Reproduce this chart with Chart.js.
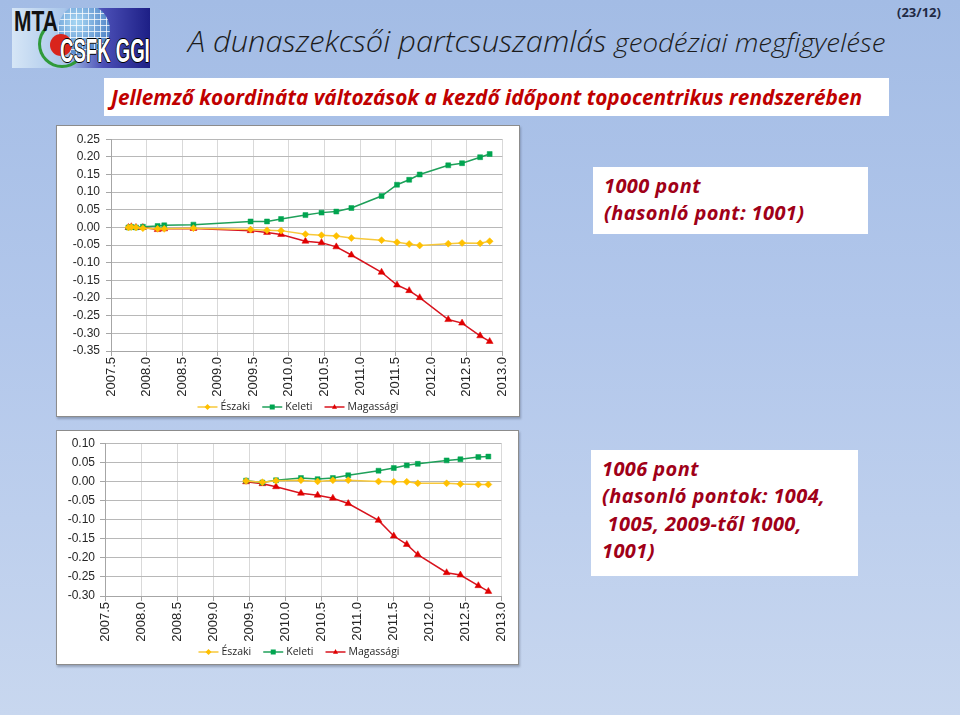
<!DOCTYPE html>
<html lang="hu">
<head>
<meta charset="UTF-8">
<title>A dunaszekcsői partcsuszamlás geodéziai megfigyelése</title>
<script src="https://cdn.jsdelivr.net/npm/chart.js"></script>
<style>
  html, body { margin: 0; padding: 0; }
  body {
    width: 960px; height: 715px; position: relative; overflow: hidden;
    background: linear-gradient(180deg, #a3bce5 0%, #b2c7eb 45%, #c8d7ef 100%);
    font-family: "Open Sans", "Liberation Sans", sans-serif;
  }
  .abs { position: absolute; white-space: nowrap; }
  /* logo */
  .logo { left: 12px; top: 8px; width: 138px; height: 60px; overflow: hidden;
    background: linear-gradient(90deg, #d6e6f6 0%, #a9c6ea 38%, #4b4fb6 66%, #1d1f86 100%); }
  .globe { left: 46px; top: -4px; width: 52px; height: 52px; border-radius: 50%;
    background: repeating-linear-gradient(0deg, rgba(255,255,255,.75) 0 1px, transparent 1px 6px),
                repeating-linear-gradient(90deg, rgba(255,255,255,.75) 0 1px, transparent 1px 6px),
                radial-gradient(circle at 35% 35%, #a8d8f4, #2f63b6); }
  .redq { left: 38px; top: 26px; width: 22px; height: 22px; border-radius: 50%; background: #d9241c; }
  .greenarc { left: 26px; top: 12px; width: 42px; height: 42px; border-radius: 50%;
    border: 3px solid transparent; border-bottom-color: #2f9a3a; border-left-color: #2f9a3a; }
  .mta { left: 2px; top: -2px; font-family: "Liberation Sans", sans-serif; transform-origin: left top;
    font-weight: bold; font-size: 30px; line-height: 30px; color: #111; }
  .csfk { left: 48px; top: 26px; font-family: "Liberation Sans", sans-serif; transform-origin: left top;
    font-weight: bold; font-size: 33px; line-height: 33px; color: #fff;
    text-shadow: -1px 0 #000, 1px 0 #000, 0 -1px #000, 0 1px #000; }

  .title { left: 188px; top: 26px; font-style: italic; font-size: 29px; line-height: 29px;
    color: #1c1c1c; transform-origin: left top; font-weight: 300; }
  .title span { font-size: 26px; }
  .page { left: 897px; top: 3px; font-weight: bold; font-size: 13px; color: #1f2a44; }
  .subbox { left: 104px; top: 78px; width: 785px; height: 38px; background: #fff; }
  .subtitle { left: 111px; top: 83px; color: #c00000; font-weight: bold; font-style: italic;
    font-size: 21px; line-height: 28px; transform-origin: left top; }

  .chartbox { background: #fff; border: 1px solid #8c8c8c; box-shadow: 1px 2px 2px rgba(60,70,90,.35); }
  .chartbox canvas { position: absolute; left: 0; top: 0; }
  .note { background: #fff; color: #a00018; font-weight: bold; font-style: italic;
    font-size: 20px; line-height: 27.5px; letter-spacing: 0.4px;
    padding: 4.5px 0 0 11px; box-sizing: border-box; white-space: pre; }
</style>
</head>
<body>

<div class="abs logo">
  <div class="abs globe"></div>
  <div class="abs greenarc"></div>
  <div class="abs redq"></div>
  <div class="abs mta" data-fit="44">MTA</div>
  <div class="abs csfk" data-fit="90">CSFK GGI</div>
</div>

<div class="abs title" data-fit="697">A dunaszekcsői partcsuszamlás <span>geodéziai megfigyelése</span></div>
<div class="abs page">(23/12)</div>

<div class="abs subbox"></div>
<div class="abs subtitle" data-fit="751">Jellemző koordináta változások a kezdő időpont topocentrikus rendszerében</div>

<div class="abs chartbox" style="left:56px; top:125px; width:462px; height:290px;">
  <canvas id="chartTop" width="462" height="290"></canvas>
</div>
<div class="abs chartbox" style="left:56px; top:430px; width:461px; height:233px;">
  <canvas id="chartBottom" width="461" height="233"></canvas>
</div>

<div class="abs note" style="left:593px; top:167px; width:275px; height:67px;">1000 pont
(hasonló pont: 1001)</div>
<div class="abs note" style="left:591px; top:450px; width:267px; height:126px;">1006 pont
(hasonló pontok: 1004,
 1005, 2009-től 1000,
1001)</div>

<script>
    // 1000-es pont (felső ábra)
    const yearsTop = [2007.745, 2007.786, 2007.851, 2007.948, 2008.155, 2008.248, 2008.658,
        2009.461, 2009.692, 2009.890, 2010.232, 2010.458, 2010.666, 2010.878, 2011.302,
        2011.519, 2011.690, 2011.838, 2012.239, 2012.433, 2012.687, 2012.821];
    const eszakiTop = [0.000, 0.001, 0.000, -0.002, -0.004, -0.004, -0.002,
        -0.006, -0.008, -0.009, -0.019, -0.022, -0.024, -0.030, -0.036,
        -0.042, -0.047, -0.051, -0.046, -0.044, -0.045, -0.039];
    const keletiTop = [0.000, 0.001, 0.000, 0.002, 0.004, 0.006, 0.008,
        0.017, 0.017, 0.024, 0.035, 0.042, 0.045, 0.055, 0.089,
        0.121, 0.135, 0.150, 0.176, 0.182, 0.199, 0.208];
    const magassagiTop = [0.000, 0.002, 0.000, 0.000, -0.006, -0.004, -0.003,
        -0.009, -0.014, -0.020, -0.039, -0.043, -0.055, -0.078, -0.127,
        -0.163, -0.179, -0.199, -0.261, -0.271, -0.307, -0.323];

    // 1006-os pont (alsó ábra)
    const yearsBottom = [2009.457, 2009.684, 2009.873, 2010.219, 2010.450, 2010.662, 2010.875,
        2011.295, 2011.507, 2011.687, 2011.840, 2012.240, 2012.431, 2012.680, 2012.819];
    const eszakiBottom = [0.001, -0.002, 0.002, 0.003, 0.000, 0.003, 0.003,
        0.000, -0.001, -0.001, -0.005, -0.005, -0.007, -0.008, -0.008];
    const keletiBottom = [0.002, -0.003, 0.003, 0.009, 0.006, 0.009, 0.016,
        0.028, 0.035, 0.042, 0.046, 0.055, 0.058, 0.064, 0.065];
    const magassagiBottom = [-0.001, -0.006, -0.014, -0.031, -0.036, -0.044, -0.058,
        -0.102, -0.143, -0.165, -0.192, -0.239, -0.245, -0.273, -0.288];

    const seriesNames = ['Északi', 'Keleti', 'Magassági'];
    const xMin = 2007.5, xMax = 2013.0, xStep = 0.5;

    const lineColors = ['#f7c83a', '#1fa05a', '#d8141e'];
    const markerColors = ['#ffc000', '#00a550', '#e00000'];
    const markerStyles = ['rectRot', 'rect', 'triangle'];
    const markerSizes = [3.5, 3.5, 4];

    const textColor = '#262626';
    const tickFont = { family: '"Liberation Sans", Arial, sans-serif', size: 12 };

    function drawMarker(ctx, style, x, y, r, color) {
        ctx.fillStyle = color;
        ctx.beginPath();
        if (style === 'rect') {
            ctx.rect(x - r, y - r, 2 * r, 2 * r);
        } else if (style === 'rectRot') {
            ctx.moveTo(x, y - r - 0.5); ctx.lineTo(x + r + 0.5, y);
            ctx.lineTo(x, y + r + 0.5); ctx.lineTo(x - r - 0.5, y);
        } else {
            ctx.moveTo(x, y - r - 0.5); ctx.lineTo(x + r, y + r * 0.7); ctx.lineTo(x - r, y + r * 0.7);
        }
        ctx.closePath();
        ctx.fill();
    }

    // Excel-szerű jelmagyarázat: vonal + jelölő + felirat
    const excelLegend = {
        id: 'excelLegend',
        afterDraw(chart, args, opts) {
            const ctx = chart.ctx;
            ctx.save();
            ctx.font = '10.5px "Open Sans", "Liberation Sans", sans-serif';
            ctx.textBaseline = 'middle';
            const items = chart.data.datasets.map((ds, i) => ({
                ds, i, w: 20 + 3 + ctx.measureText(ds.label).width
            }));
            const gap = 12;
            const total = items.reduce((s, it) => s + it.w, 0) + gap * (items.length - 1);
            let x = opts.cx - total / 2;
            const y = opts.y;
            items.forEach(it => {
                ctx.strokeStyle = lineColors[it.i];
                ctx.lineWidth = 1.5;
                ctx.beginPath(); ctx.moveTo(x, y); ctx.lineTo(x + 20, y); ctx.stroke();
                drawMarker(ctx, markerStyles[it.i], x + 10, y, 2.5, markerColors[it.i]);
                ctx.fillStyle = textColor;
                ctx.fillText(it.ds.label, x + 23, y + 0.5);
                x += it.w + gap;
            });
            ctx.restore();
        }
    };

    function makeChart(id, years, series, yMin, yMax, box) {
        const xTicks = [];
        for (let v = xMin; v <= xMax + 1e-9; v += xStep) xTicks.push(+v.toFixed(1));
        const yTicks = [];
        for (let k = Math.round(yMin / 0.05); k <= Math.round(yMax / 0.05); k++) yTicks.push(+(k * 0.05).toFixed(2));

        new Chart(document.getElementById(id).getContext('2d'), {
            type: 'line',
            data: {
                datasets: series.map((vals, i) => ({
                    label: seriesNames[i],
                    data: years.map((x, j) => ({ x: x, y: vals[j] })),
                    borderColor: lineColors[i],
                    backgroundColor: markerColors[i],
                    pointBackgroundColor: markerColors[i],
                    pointBorderColor: markerColors[i],
                    pointStyle: markerStyles[i],
                    pointRadius: markerSizes[i],
                    pointBorderWidth: 0.5,
                    borderWidth: 1.5,
                    tension: 0
                }))
            },
            options: {
                responsive: false,
                animation: false,
                layout: { padding: { left: 0, top: box.top, right: box.right, bottom: 0 } },
                plugins: {
                    legend: { display: false },
                    tooltip: { enabled: false },
                    excelLegend: { cx: box.legendX, y: box.legendY }
                },
                scales: {
                    x: {
                        type: 'linear', min: xMin, max: xMax,
                        afterBuildTicks: s => { s.ticks = xTicks.map(v => ({ value: v })); },
                        afterFit: s => { s.height = box.xh; },
                        ticks: {
                            callback: v => v.toFixed(1),
                            minRotation: 90, maxRotation: 90, autoSkip: false,
                            font: { family: tickFont.family, size: 13 }, color: textColor, padding: 1
                        },
                        grid: { color: '#d9d9d9', tickLength: 5, tickColor: '#a6a6a6' },
                        border: { color: '#a6a6a6' }
                    },
                    y: {
                        min: yMin, max: yMax,
                        afterBuildTicks: s => { s.ticks = yTicks.map(v => ({ value: v })); },
                        afterFit: s => { s.width = box.yw; },
                        ticks: {
                            callback: v => (Math.abs(v) < 1e-9 ? 0 : v).toFixed(2),
                            font: tickFont, color: textColor, padding: box.ypad
                        },
                        grid: { color: '#b8b8b8', tickLength: 5, tickColor: '#a6a6a6' },
                        border: { color: '#a6a6a6' }
                    }
                }
            },
            plugins: [excelLegend]
        });
    }

    makeChart('chartTop', yearsTop, [eszakiTop, keletiTop, magassagiTop], -0.35, 0.25,
        { top: 13, right: 11, yw: 54, xh: 65, ypad: 6, legendX: 241, legendY: 281 });
    makeChart('chartBottom', yearsBottom, [eszakiBottom, keletiBottom, magassagiBottom], -0.30, 0.10,
        { top: 10, right: 16, yw: 48, xh: 68, ypad: 5, legendX: 242, legendY: 221 });

    // feliratok szélességének illesztése
    document.querySelectorAll('[data-fit]').forEach(el => {
        const w = +el.dataset.fit;
        el.style.transform = 'scaleX(' + (w / el.offsetWidth) + ')';
    });
</script>

</body>
</html>
